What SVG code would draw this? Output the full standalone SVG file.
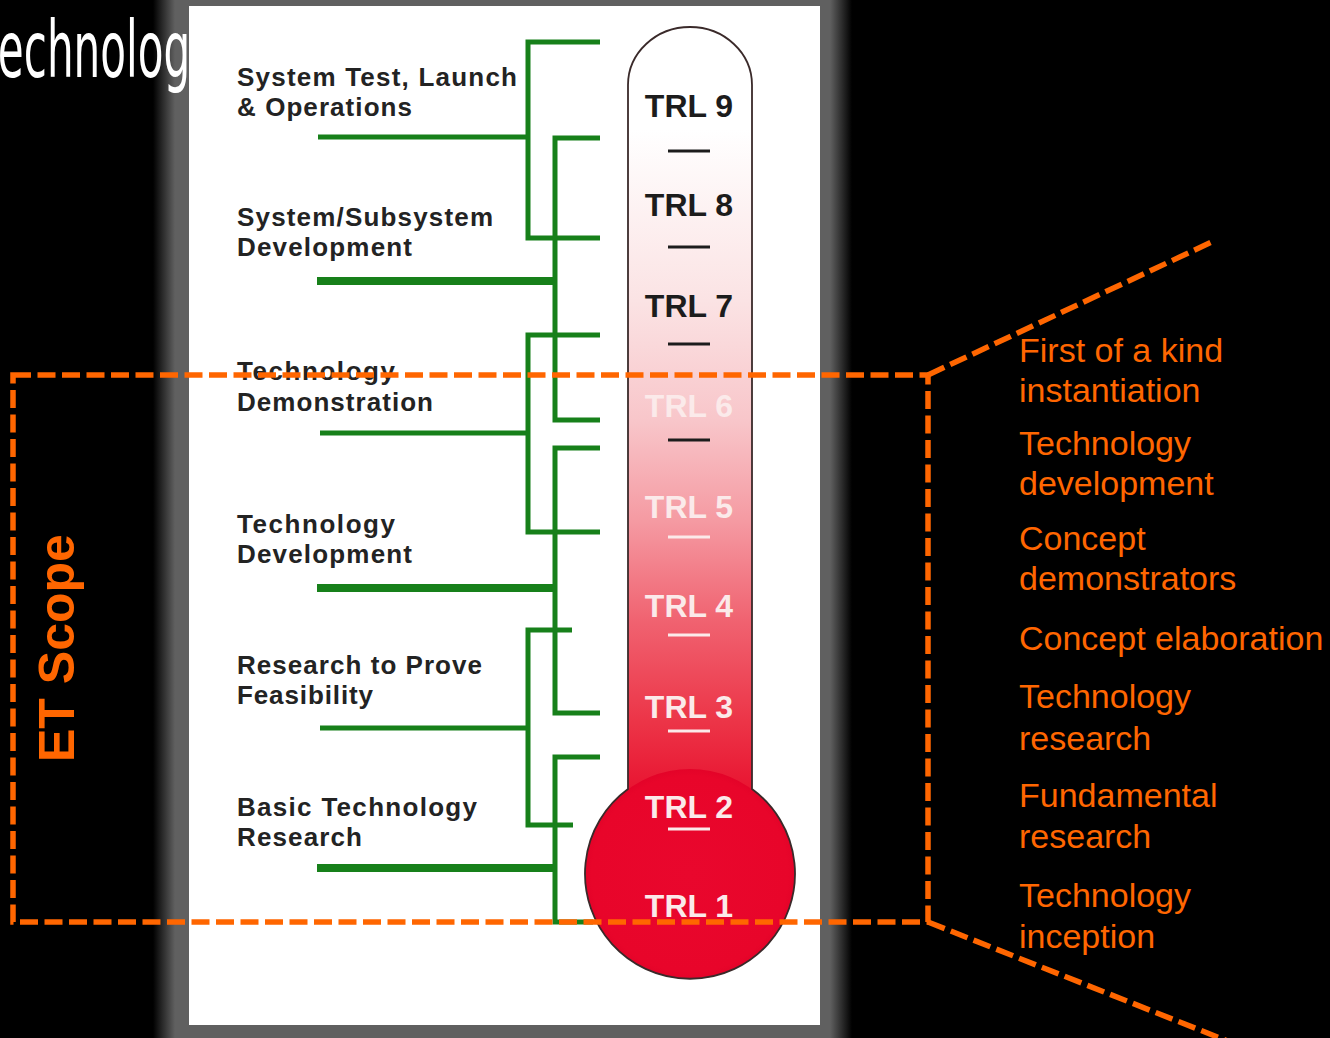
<svg xmlns="http://www.w3.org/2000/svg" width="1330" height="1038" viewBox="0 0 1330 1038">
<defs>
<style>
.lbl{font-family:"Liberation Sans",Arial,sans-serif;font-weight:bold;font-size:26px;fill:#232323}
.trl{font-family:"Liberation Sans",Arial,sans-serif;font-weight:bold;font-size:32px;text-anchor:middle}
.dk{fill:#1c1c1c}
.lt{fill:#fbeaea}
.rt{font-family:"Liberation Sans",Arial,sans-serif;font-size:34px;fill:#ff6600}
.g{fill:none;stroke:#17801a;stroke-width:5;stroke-linejoin:miter}
.gt{fill:none;stroke:#17801a;stroke-width:8}
.od{fill:none;stroke:#ff6600;stroke-width:5.5;stroke-dasharray:18 6.5}
.bd{stroke:#1c1c1c;stroke-width:3}
.wd{stroke:#fbeaea;stroke-width:3}
</style>
<linearGradient id="shL" x1="0" y1="0" x2="1" y2="0">
<stop offset="0" stop-color="#000"/><stop offset="1" stop-color="#606060"/>
</linearGradient>
<linearGradient id="shR" x1="0" y1="0" x2="1" y2="0">
<stop offset="0" stop-color="#606060"/><stop offset="1" stop-color="#000"/>
</linearGradient>
<linearGradient id="tube" gradientUnits="userSpaceOnUse" x1="0" y1="25" x2="0" y2="800">
<stop offset="0" stop-color="#ffffff"/>
<stop offset="0.135" stop-color="#ffffff"/>
<stop offset="0.355" stop-color="#fbe3e4"/>
<stop offset="0.51" stop-color="#f8c6ca"/>
<stop offset="0.64" stop-color="#f59aa2"/>
<stop offset="0.77" stop-color="#f06270"/>
<stop offset="0.9" stop-color="#ec3447"/>
<stop offset="1" stop-color="#e8102e"/>
</linearGradient>
<radialGradient id="bulb" cx="0.5" cy="0.5" r="0.55">
<stop offset="0" stop-color="#e9072d"/>
<stop offset="0.85" stop-color="#e8052a"/>
<stop offset="1" stop-color="#dc0026"/>
</radialGradient>
</defs>

<rect x="0" y="0" width="1330" height="1038" fill="#000"/>

<g id="frame">
<rect x="153" y="0" width="22" height="1038" fill="url(#shL)"/>
<rect x="830" y="0" width="22" height="1038" fill="url(#shR)"/>
<rect x="175" y="0" width="655" height="1038" fill="#606060"/>
</g>

<g id="title">
<text transform="scale(0.54,1)" x="-4" y="77" font-family="DejaVu Sans,sans-serif" font-size="78" fill="#ffffff">echnolog</text>
</g>

<rect id="panel" x="189" y="6" width="631" height="1019" fill="#ffffff"/>

<g id="thermometer">
<path d="M628,789 L628,85 A62,58 0 0 1 752,85 L752,789 A105,105 0 1 1 628,789 Z" fill="url(#tube)"/>
<circle cx="690" cy="874" r="105" fill="url(#bulb)"/>
<path d="M628,789 L628,85 A62,58 0 0 1 752,85 L752,789 A105,105 0 1 1 628,789 Z" fill="none" stroke="#3a2a2a" stroke-width="1.8"/>
</g>

<g id="trl9"><text class="trl dk" x="689" y="117">TRL 9</text><line class="bd" x1="668" y1="151" x2="710" y2="151"/></g>
<g id="trl8"><text class="trl dk" x="689" y="216">TRL 8</text><line class="bd" x1="668" y1="247" x2="710" y2="247"/></g>
<g id="trl7"><text class="trl dk" x="689" y="317">TRL 7</text><line class="bd" x1="668" y1="344" x2="710" y2="344"/></g>
<g id="trl6"><text class="trl lt" x="689" y="417">TRL 6</text><line class="bd" x1="668" y1="440" x2="710" y2="440"/></g>
<g id="trl5"><text class="trl lt" x="689" y="518">TRL 5</text><line class="wd" x1="668" y1="537" x2="710" y2="537"/></g>
<g id="trl4"><text class="trl lt" x="689" y="617">TRL 4</text><line class="wd" x1="668" y1="635" x2="710" y2="635"/></g>
<g id="trl3"><text class="trl lt" x="689" y="718">TRL 3</text><line class="wd" x1="668" y1="731" x2="710" y2="731"/></g>
<g id="trl2"><text class="trl lt" x="689" y="818">TRL 2</text><line class="wd" x1="668" y1="829" x2="710" y2="829"/></g>
<g id="trl1"><text class="trl lt" x="689" y="917">TRL 1</text></g>

<g id="phase-system-test"><text class="lbl" x="237" y="86" textLength="280">System Test, Launch</text><text class="lbl" x="237" y="116" textLength="175">&amp; Operations</text></g>
<g id="phase-subsystem"><text class="lbl" x="237" y="226" textLength="256">System/Subsystem</text><text class="lbl" x="237" y="256" textLength="175">Development</text></g>
<g id="phase-demonstration"><text class="lbl" x="237" y="380" textLength="158">Technology</text><text class="lbl" x="237" y="411" textLength="196">Demonstration</text></g>
<g id="phase-development"><text class="lbl" x="237" y="533" textLength="158">Technology</text><text class="lbl" x="237" y="563" textLength="175">Development</text></g>
<g id="phase-feasibility"><text class="lbl" x="237" y="674" textLength="245">Research to Prove</text><text class="lbl" x="237" y="704" textLength="136">Feasibility</text></g>
<g id="phase-basic"><text class="lbl" x="237" y="816" textLength="240">Basic Technology</text><text class="lbl" x="237" y="846" textLength="125">Research</text></g>

<g id="connectors">
<polyline class="g" points="600,42 528,42 528,238 600,238"/>
<line class="g" x1="318" y1="137" x2="528" y2="137"/>
<polyline class="g" points="600,138 555,138 555,420 600,420"/>
<line class="gt" x1="317" y1="281" x2="555" y2="281"/>
<polyline class="g" points="600,335 528,335 528,532 600,532"/>
<line class="g" x1="320" y1="433" x2="528" y2="433"/>
<polyline class="g" points="600,448 555,448 555,713 600,713"/>
<line class="gt" x1="317" y1="588" x2="555" y2="588"/>
<polyline class="g" points="572,630 528,630 528,825 573,825"/>
<line class="g" x1="320" y1="728" x2="528" y2="728"/>
<polyline class="g" points="600,757 555,757 555,922 593,922"/>
<line class="gt" x1="317" y1="868" x2="555" y2="868"/>
</g>

<g id="et-scope">
<rect class="od" x="13" y="375" width="915" height="547"/>
<line class="od" x1="928" y1="375" x2="1216" y2="240"/>
<line class="od" x1="928" y1="922" x2="1230" y2="1042"/>
<text transform="translate(74,762) rotate(-90)" font-family="Liberation Sans,Arial,sans-serif" font-weight="bold" font-size="50" fill="#ff6600">ET Scope</text>
</g>

<g id="stage-first"><text class="rt" x="1019" y="362">First of a kind</text><text class="rt" x="1019" y="402">instantiation</text></g>
<g id="stage-techdev"><text class="rt" x="1019" y="455">Technology</text><text class="rt" x="1019" y="495">development</text></g>
<g id="stage-demo"><text class="rt" x="1019" y="550">Concept</text><text class="rt" x="1019" y="590">demonstrators</text></g>
<g id="stage-elab"><text class="rt" x="1019" y="650">Concept elaboration</text></g>
<g id="stage-techres"><text class="rt" x="1019" y="708">Technology</text><text class="rt" x="1019" y="750">research</text></g>
<g id="stage-fund"><text class="rt" x="1019" y="807">Fundamental</text><text class="rt" x="1019" y="848">research</text></g>
<g id="stage-inception"><text class="rt" x="1019" y="907">Technology</text><text class="rt" x="1019" y="948">inception</text></g>
</svg>
